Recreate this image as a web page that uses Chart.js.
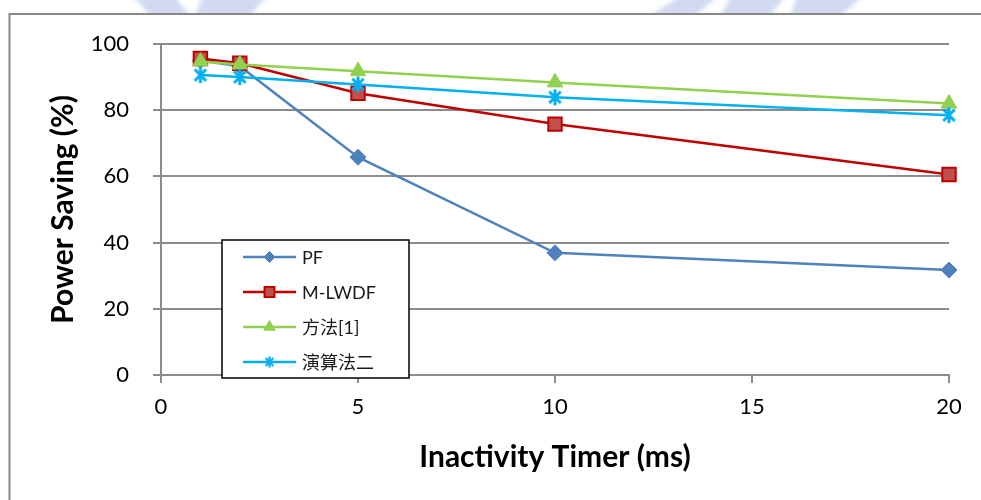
<!DOCTYPE html>
<html lang="zh-Hant">
<head>
<meta charset="UTF-8">
<title>Power Saving vs Inactivity Timer</title>
<script src="https://cdn.jsdelivr.net/npm/chart.js"></script>
<style>
  html, body { margin: 0; padding: 0; background: #fff; }
  #wrap { width: 981px; height: 500px; position: relative; }
</style>
</head>
<body>
<div id="wrap"><canvas id="powerChart"></canvas></div>
<script>
// inactivity timer (ms) and power saving (%) per scheme
const timers = [1, 2, 5, 10, 20];
const seriesNames = ['PF', 'M-LWDF', '方法[1]', '演算法二'];
const pfSaving = [95.0, 93.3, 65.8, 36.9, 31.7];
const mlwdfSaving = [95.6, 94.2, 85.1, 75.8, 60.6];
const method1Saving = [94.7, 93.8, 91.8, 88.4, 82.0];
const algo2Saving = [90.6, 90.0, 87.8, 83.9, 78.5];
const xTicks = [0, 5, 10, 15, 20];
const yTicks = [0, 20, 40, 60, 80, 100];

const FONT = 'Lato, "Noto Sans CJK TC", sans-serif';
const GRID = '#8c8c8c';

// excel-style asterisk marker: an X with a vertical bar
function makeAsterisk(size, color, lw) {
    const c = document.createElement('canvas');
    c.width = c.height = size;
    const g = c.getContext('2d');
    g.strokeStyle = color;
    g.lineWidth = lw;
    const m = size / 2, r = size / 2 - 1, d = r * 0.72;
    g.beginPath();
    g.moveTo(m, m - r); g.lineTo(m, m + r);
    g.moveTo(m - d, m - d); g.lineTo(m + d, m + d);
    g.moveTo(m + d, m - d); g.lineTo(m - d, m + d);
    g.stroke();
    return c;
}
const starBig = makeAsterisk(18, '#00b0f0', 3);
const starSmall = makeAsterisk(13, '#00b0f0', 2.2);

function toPoints(values) {
    return timers.map((t, i) => ({ x: t, y: values[i] }));
}

const datasets = [
    {
        label: seriesNames[0], data: toPoints(pfSaving), order: 4,
        borderColor: '#4f81bd', backgroundColor: '#4f81bd', borderWidth: 2.5,
        pointStyle: 'rectRot', pointRadius: 8, pointBorderWidth: 1,
        legendStyle: { pointStyle: 'rectRot', radius: 5.5 }
    },
    {
        label: seriesNames[1], data: toPoints(mlwdfSaving), order: 3,
        borderColor: '#c00000', backgroundColor: '#c0504d', borderWidth: 2.5,
        pointStyle: 'rect', pointRadius: 9.5, pointBorderWidth: 2,
        legendStyle: { pointStyle: 'rect', radius: 7 }
    },
    {
        label: seriesNames[2], data: toPoints(method1Saving), order: 2,
        borderColor: '#92d050', backgroundColor: '#92d050', borderWidth: 2.5,
        pointStyle: 'triangle', pointRadius: 9, pointBorderWidth: 1,
        legendStyle: { pointStyle: 'triangle', radius: 6.5 }
    },
    {
        label: seriesNames[3], data: toPoints(algo2Saving), order: 1,
        borderColor: '#00b0f0', backgroundColor: '#00b0f0', borderWidth: 2.5,
        pointStyle: starBig, pointRadius: 9,
        legendStyle: { pointStyle: starSmall, radius: 6 }
    }
];
datasets.forEach(ds => { ds.clip = false; });

// page frame and faint watermark band along the top
const frame = {
    id: 'frame',
    beforeDraw(chart) {
        const ctx = chart.ctx;
        ctx.save();
        ctx.fillStyle = '#fff';
        ctx.fillRect(0, 0, chart.width, chart.height);
        ctx.beginPath();
        ctx.rect(0, 0, chart.width, 14);
        ctx.clip();
        ctx.filter = 'blur(2px)';
        ctx.fillStyle = 'rgba(165,182,228,0.5)';
        ctx.beginPath();
        ctx.moveTo(128, -10); ctx.lineTo(170, -10); ctx.lineTo(190, 16); ctx.lineTo(150, 16); ctx.closePath();
        ctx.moveTo(205, -10); ctx.lineTo(272, -10); ctx.lineTo(250, 16); ctx.lineTo(195, 16); ctx.closePath();
        ctx.moveTo(650, 16); ctx.lineTo(690, -10); ctx.lineTo(725, -10); ctx.lineTo(695, 16); ctx.closePath();
        ctx.moveTo(735, -10); ctx.lineTo(790, -10); ctx.lineTo(770, 16); ctx.lineTo(720, 16); ctx.closePath();
        ctx.moveTo(800, -10); ctx.lineTo(870, -10); ctx.lineTo(840, 16); ctx.lineTo(790, 16); ctx.closePath();
        ctx.fill();
        ctx.restore();
        ctx.save();
        ctx.strokeStyle = '#888';
        ctx.lineWidth = 2;
        ctx.strokeRect(9.5, 14, chart.width + 20, chart.height + 20);
        ctx.restore();
    }
};

// boxed legend sitting inside the plot area
const boxLegend = {
    id: 'boxLegend',
    afterDatasetsDraw(chart) {
        const ctx = chart.ctx;
        const left = 222, top = 240, w = 187, h = 138;
        ctx.save();
        ctx.fillStyle = '#fff';
        ctx.fillRect(left, top, w, h);
        ctx.strokeStyle = '#000';
        ctx.lineWidth = 1.5;
        ctx.strokeRect(left, top, w, h);
        chart.data.datasets.forEach((ds, i) => {
            const y = top + 17 + i * 35;
            ctx.strokeStyle = ds.borderColor;
            ctx.lineWidth = 2.5;
            ctx.beginPath();
            ctx.moveTo(243, y);
            ctx.lineTo(296, y);
            ctx.stroke();
            ctx.fillStyle = ds.backgroundColor;
            ctx.strokeStyle = ds.borderColor;
            ctx.lineWidth = ds.pointBorderWidth || 1;
            Chart.helpers.drawPoint(ctx, {
                pointStyle: ds.legendStyle.pointStyle,
                radius: ds.legendStyle.radius,
                rotation: 0,
                borderWidth: ds.pointBorderWidth || 1
            }, 269.5, y);
            ctx.fillStyle = '#1a1a1a';
            ctx.font = '18px ' + FONT;
            ctx.textBaseline = 'middle';
            ctx.textAlign = 'left';
            ctx.fillText(ds.label, 302, y + 1);
        });
        ctx.restore();
    }
};

const chart = new Chart(document.getElementById('powerChart'), {
    type: 'line',
    data: { datasets: datasets },
    options: {
        responsive: true,
        maintainAspectRatio: false,
        animation: false,
        layout: { padding: { left: 0, right: 32, top: 44, bottom: 0 } },
        plugins: {
            legend: { display: false },
            tooltip: { enabled: false }
        },
        scales: {
            x: {
                type: 'linear',
                min: 0, max: 20,
                afterBuildTicks: s => { s.ticks = xTicks.map(v => ({ value: v })); },
                afterFit: s => { s.height = 125; },
                grid: { drawOnChartArea: false, color: GRID, lineWidth: 2, tickLength: 8 },
                border: { color: GRID, width: 2 },
                ticks: { color: '#000', font: { family: FONT, size: 22 }, padding: 11 },
                title: {
                    display: true, text: 'Inactivity Timer (ms)', color: '#000',
                    font: { family: FONT, size: 30, weight: 'bold' },
                    padding: { top: 0, bottom: 25 }
                }
            },
            y: {
                min: 0, max: 100,
                afterBuildTicks: s => { s.ticks = yTicks.map(v => ({ value: v })); },
                afterFit: s => { s.width = 161; },
                grid: { color: GRID, lineWidth: 2, tickLength: 8 },
                border: { color: GRID, width: 2 },
                ticks: { color: '#000', font: { family: FONT, size: 22 }, padding: 24 },
                title: {
                    display: true, text: 'Power Saving (%)', color: '#000',
                    font: { family: FONT, size: 30, weight: 'bold' },
                    padding: { top: 45, bottom: 0 }
                }
            }
        }
    },
    plugins: [frame, boxLegend]
});
</script>
</body>
</html>
